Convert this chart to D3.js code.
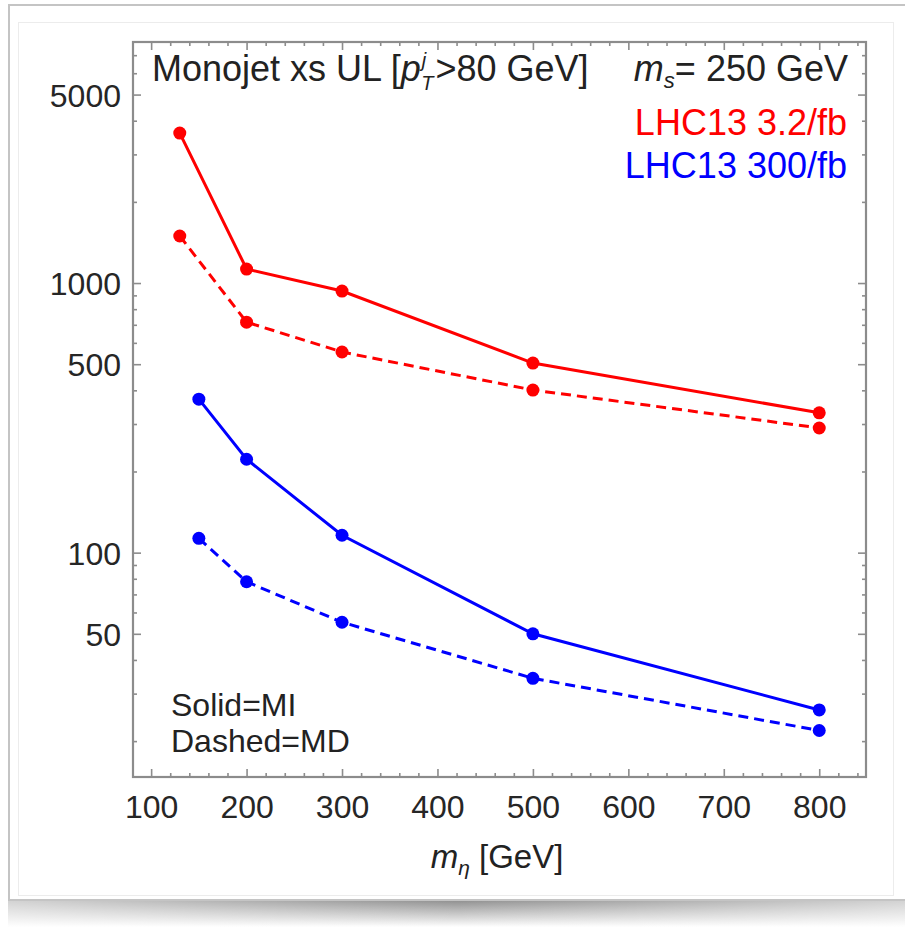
<!DOCTYPE html>
<html>
<head>
<meta charset="utf-8">
<script src="https://cdn.jsdelivr.net/npm/d3@7"></script>
<style>
  body { margin: 0; background: #fff; }
  svg { display: block; }
</style>
</head>
<body>
<script>
// masses on the x axis (GeV)
const massRed = [130, 200, 300, 500, 800]
const massBlue = [150, 200, 300, 500, 800]

// monojet cross section upper limits (fb)
const red32Solid = [3600, 1127, 934, 505, 330]
const red32Dashed = [1494, 716, 555, 401, 290]
const blue300Solid = [371, 222, 116, 50, 26.1]
const blue300Dashed = [113, 78, 55.2, 34.2, 21.9]

// tick values
const xMajor = [100, 200, 300, 400, 500, 600, 700, 800]
const xMinor = d3.range(100, 850, 20).filter(v => v % 100 !== 0)
const yMajor = [50, 100, 500, 1000, 5000]
const yMinor = [20, 30, 40, 60, 70, 80, 90, 200, 300, 400, 600, 700, 800, 900, 2000, 3000, 4000, 6000, 7000]

const width = 905
const height = 929
const frame = { left: 133, right: 866, top: 42, bottom: 777 }

const svg = d3.select('body').append('svg')
  .attr('width', width)
  .attr('height', height)

// card + shadow (screenshot look)
const defs = svg.append('defs')
const grad = defs.append('linearGradient').attr('id', 'shadow')
  .attr('x1', 0).attr('x2', 0).attr('y1', 0).attr('y2', 1)
grad.append('stop').attr('offset', '0%').attr('stop-color', '#8a8a8a')
grad.append('stop').attr('offset', '100%').attr('stop-color', '#ffffff')
const hgrad = defs.append('linearGradient').attr('id', 'shadowH')
  .attr('x1', 0).attr('x2', 1).attr('y1', 0).attr('y2', 0)
hgrad.append('stop').attr('offset', '0%').attr('stop-color', '#fff').attr('stop-opacity', 0.6)
hgrad.append('stop').attr('offset', '50%').attr('stop-color', '#fff').attr('stop-opacity', 0)
hgrad.append('stop').attr('offset', '100%').attr('stop-color', '#fff').attr('stop-opacity', 0.6)

svg.append('rect').attr('x', 8).attr('y', 899).attr('width', 897).attr('height', 28)
  .attr('fill', 'url(#shadow)')
svg.append('rect').attr('x', 8).attr('y', 899).attr('width', 897).attr('height', 28)
  .attr('fill', 'url(#shadowH)')
svg.append('rect').attr('x', 9).attr('y', 5).attr('width', 900).attr('height', 895)
  .attr('fill', '#fff').attr('stroke', '#c4c4c4').attr('stroke-width', 2)
svg.append('rect').attr('x', 18.5).attr('y', 22.5).attr('width', 875).attr('height', 873)
  .attr('fill', '#fff').attr('stroke', '#ececec').attr('stroke-width', 1)

const x = d3.scaleLinear().domain([81, 849]).range([frame.left, frame.right])
const y = d3.scaleLog().domain([14.72, 7834]).range([frame.bottom, frame.top])

const axisColor = '#8c8c8c'
const tickFont = '"Liberation Sans", Arial, Helvetica, sans-serif'

function drawAxis(axisFn, scale, values, size, tx, ty, labels) {
  const g = svg.append('g')
    .attr('transform', 'translate(' + tx + ',' + ty + ')')
    .call(axisFn(scale).tickValues(values).tickSize(-size).tickSizeOuter(0)
      .tickFormat(labels ? d3.format('d') : ''))
  g.select('.domain').remove()
  g.selectAll('.tick line').attr('stroke', axisColor).attr('stroke-width', 1.6)
  return g
}

// minor ticks on all four sides
drawAxis(d3.axisBottom, x, xMinor, 4, 0, frame.bottom, false)
drawAxis(d3.axisTop, x, xMinor, 4, 0, frame.top, false)
drawAxis(d3.axisLeft, y, yMinor, 4, frame.left, 0, false)
drawAxis(d3.axisRight, y, yMinor, 4, frame.right, 0, false)
// major ticks
const xb = drawAxis(d3.axisBottom, x, xMajor, 8, 0, frame.bottom, true)
drawAxis(d3.axisTop, x, xMajor, 8, 0, frame.top, false)
const yl = drawAxis(d3.axisLeft, y, yMajor, 8, frame.left, 0, true)
drawAxis(d3.axisRight, y, yMajor, 8, frame.right, 0, false)

xb.selectAll('.tick text')
  .attr('y', 0).attr('dy', 41)
  .style('font-family', tickFont).style('font-size', '32px').attr('fill', '#262626')
yl.selectAll('.tick text')
  .attr('x', -12).attr('dy', '0.36em')
  .style('font-family', tickFont).style('font-size', '32px').attr('fill', '#262626')

// frame
svg.append('rect')
  .attr('x', frame.left).attr('y', frame.top)
  .attr('width', frame.right - frame.left).attr('height', frame.bottom - frame.top)
  .attr('fill', 'none').attr('stroke', axisColor).attr('stroke-width', 2.2)

// series
const series = [
  { xs: massRed, ys: red32Solid, color: '#ff0000', dash: null },
  { xs: massRed, ys: red32Dashed, color: '#ff0000', dash: '10,6' },
  { xs: massBlue, ys: blue300Solid, color: '#0000ff', dash: null },
  { xs: massBlue, ys: blue300Dashed, color: '#0000ff', dash: '10,6' }
]

const line = d3.line()
  .x(d => x(d[0]))
  .y(d => y(d[1]))

series.forEach(s => {
  const pts = s.xs.map((m, i) => [m, s.ys[i]])
  svg.append('path')
    .attr('d', line(pts))
    .attr('fill', 'none')
    .attr('stroke', s.color)
    .attr('stroke-width', 3)
    .attr('stroke-dasharray', s.dash)
  svg.selectAll(null)
    .data(pts)
    .enter()
    .append('circle')
    .attr('cx', d => x(d[0]))
    .attr('cy', d => y(d[1]))
    .attr('r', 6.5)
    .attr('fill', s.color)
})

// text
const textFont = '"Liberation Sans", Arial, Helvetica, sans-serif'
const title = svg.append('text')
  .attr('x', 152).attr('y', 81)
  .style('font-family', textFont).style('font-size', '36px').attr('fill', '#222')
title.append('tspan').text('Monojet xs UL [')
title.append('tspan').style('font-style', 'italic').text('p')
title.append('tspan').style('font-style', 'italic').style('font-size', '20px')
  .attr('dx', 1).attr('dy', -14).text('j')
title.append('tspan').style('font-style', 'italic').style('font-size', '20px')
  .attr('dx', -5).attr('dy', 23).text('T')
title.append('tspan').attr('dx', 2).attr('dy', -9).text('>80 GeV]')

const ms = svg.append('text')
  .attr('x', 848).attr('y', 81).attr('text-anchor', 'end')
  .style('font-family', textFont).style('font-size', '36px').attr('fill', '#222')
ms.append('tspan').style('font-style', 'italic').text('m')
ms.append('tspan').style('font-style', 'italic').style('font-size', '22px')
  .attr('dy', 7).text('s')
ms.append('tspan').attr('dy', -7).text('= 250 GeV')

svg.append('text')
  .attr('x', 847).attr('y', 135).attr('text-anchor', 'end')
  .style('font-family', textFont).style('font-size', '36px').attr('fill', '#ff0000')
  .text('LHC13 3.2/fb')
svg.append('text')
  .attr('x', 847).attr('y', 178).attr('text-anchor', 'end')
  .style('font-family', textFont).style('font-size', '36px').attr('fill', '#0000ff')
  .text('LHC13 300/fb')

svg.append('text')
  .attr('x', 171).attr('y', 716)
  .style('font-family', textFont).style('font-size', '32px').attr('fill', '#222')
  .text('Solid=MI')
svg.append('text')
  .attr('x', 171).attr('y', 752)
  .style('font-family', textFont).style('font-size', '32px').attr('fill', '#222')
  .text('Dashed=MD')

const xl = svg.append('text')
  .attr('x', 497).attr('y', 868).attr('text-anchor', 'middle')
  .style('font-family', textFont).style('font-size', '33px').attr('fill', '#222')
xl.append('tspan').style('font-style', 'italic').text('m')
xl.append('tspan').style('font-style', 'italic').style('font-size', '21px')
  .attr('dy', 7).text('η')
xl.append('tspan').attr('dy', -7).text(' [GeV]')
</script>
</body>
</html>
